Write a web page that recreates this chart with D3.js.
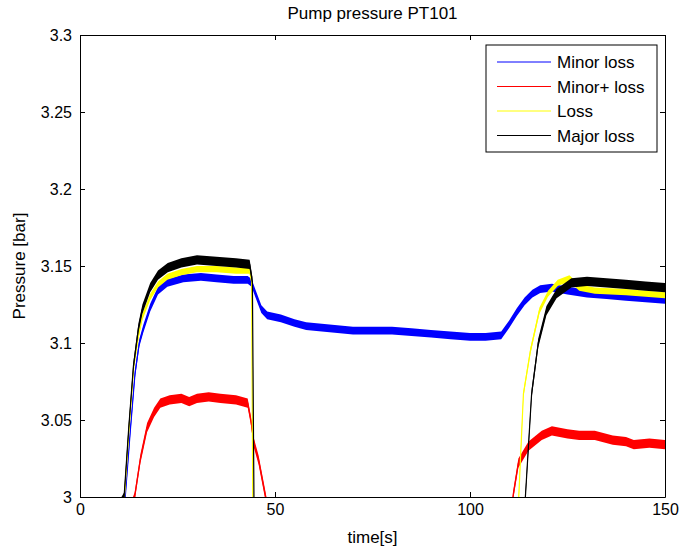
<!DOCTYPE html>
<html>
<head>
<meta charset="utf-8">
<script src="https://cdn.jsdelivr.net/npm/d3@7"></script>
<style>
  body { margin: 0; background: #fff; }
  svg text { font-family: "Liberation Sans", Arial, sans-serif; fill: #000; }
  .axis path, .axis line { stroke: #000; stroke-width: 1; }
  .axis text { font-size: 16px; }
</style>
</head>
<body>
<svg width="683" height="554"></svg>
<script>
// time [s] / pressure [bar] pairs
var minorLoss = [
  [0, 2.95], [11.6, 3.0], [12.8, 3.04], [14.1, 3.08], [15.2, 3.1], [16.2, 3.109], [18, 3.123],
  [20, 3.134], [22.4, 3.139], [26.5, 3.142], [31, 3.143], [35, 3.142], [39.4, 3.141], [43, 3.141],
  [44, 3.139], [45, 3.132], [46.5, 3.122], [48, 3.118], [51.5, 3.116], [55, 3.113], [58, 3.111],
  [62, 3.11], [66, 3.109], [70, 3.108], [75, 3.108], [80, 3.108], [85, 3.107], [90, 3.106],
  [95, 3.105], [100, 3.104], [104, 3.104], [108, 3.105], [110, 3.112], [112, 3.12], [114, 3.127],
  [116, 3.132], [118, 3.135], [121, 3.136], [125, 3.134], [130, 3.132], [135, 3.131], [140, 3.13],
  [145, 3.129], [150, 3.128]
];
var minorPlusLoss = [
  [0, 2.9], [14, 3.0], [15.5, 3.025], [17.2, 3.045], [19, 3.055], [20.6, 3.061], [23, 3.063],
  [26, 3.064], [28, 3.062], [30, 3.064], [33, 3.065], [36, 3.064], [40, 3.063], [43, 3.061],
  [43.8, 3.05], [44.6, 3.035], [45.8, 3.024], [47.6, 3.0], [49, 2.98], [110, 2.95],
  [111, 3.0], [112.4, 3.022], [115, 3.033], [118.4, 3.04], [121, 3.043], [125, 3.041],
  [128, 3.04], [132, 3.04], [136.6, 3.037], [140, 3.036], [142, 3.034], [146, 3.035], [150, 3.034]
];
var loss = [
  [0, 2.95], [11.4, 3.0], [12.6, 3.045], [13.8, 3.085], [15, 3.105], [16, 3.117], [18, 3.13],
  [20, 3.138], [22.4, 3.143], [26, 3.146], [30, 3.148], [35, 3.148], [40, 3.147], [43.5, 3.147],
  [44, 3.14], [44.4, 2.95], [44.6, 2.9], [111, 2.9], [112.5, 3.0], [113.7, 3.067], [115.5, 3.095],
  [117.8, 3.121], [120, 3.132], [122.5, 3.139], [125.5, 3.142], [128, 3.136], [132, 3.134],
  [140, 3.133], [150, 3.131]
];
var majorLoss = [
  [0, 2.95], [11.3, 3.0], [12.5, 3.045], [13.7, 3.085], [15, 3.11], [16, 3.122], [18, 3.136],
  [20, 3.144], [22.5, 3.149], [26, 3.152], [30, 3.154], [35, 3.153], [40, 3.152], [43.5, 3.151],
  [44.2, 3.14], [44.6, 3.0], [44.8, 2.9], [113.5, 2.9], [114.2, 3.0], [115.8, 3.067], [117.5, 3.1],
  [119.6, 3.121], [122.2, 3.132], [126, 3.139], [130, 3.14], [135, 3.139], [140, 3.138],
  [145, 3.137], [150, 3.136]
];

var seriesNames = ["Minor loss", "Minor+ loss", "Loss", "Major loss"];
var seriesColors = ["#0000ff", "#ff0000", "#ffff00", "#000000"];
// half-width of the sensor noise band, bar
var seriesNoise = [0.0025, 0.003, 0.002, 0.003];
var seriesData = [minorLoss, minorPlusLoss, loss, majorLoss];

var xTicks = [0, 50, 100, 150];
var yTicks = [3, 3.05, 3.1, 3.15, 3.2, 3.25, 3.3];

var svg = d3.select("svg"),
    margin = {top: 35, right: 18, bottom: 57, left: 80},
    width = +svg.attr("width") - margin.left - margin.right,
    height = +svg.attr("height") - margin.top - margin.bottom;

var x = d3.scaleLinear().domain([0, 150]).range([0, width]);
var y = d3.scaleLinear().domain([3, 3.3]).range([height, 0]);

var g = svg.append("g").attr("transform", "translate(" + margin.left + "," + margin.top + ")");

g.append("clipPath").attr("id", "clip")
  .append("rect").attr("width", width).attr("height", height);

var plot = g.append("g").attr("clip-path", "url(#clip)");

var area = d3.area()
    .x(d => x(d[0]))
    .y0(d => y(d[1] - d[2]))
    .y1(d => y(d[1] + d[2]));

var line = d3.line()
    .x(d => x(d[0]))
    .y(d => y(d[1]));

seriesData.forEach((data, i) => {
  var withNoise = data.map(d => [d[0], d[1], seriesNoise[i]]);
  plot.append("path")
      .datum(withNoise)
      .attr("d", area)
      .attr("fill", seriesColors[i])
      .attr("stroke", "none");
  plot.append("path")
      .datum(data)
      .attr("d", line)
      .attr("fill", "none")
      .attr("stroke", seriesColors[i])
      .attr("stroke-width", 1.2);
});

// axes, MATLAB style: ticks inside on all four sides
g.append("g").attr("class", "axis")
    .attr("transform", "translate(0," + height + ")")
    .call(d3.axisBottom(x).tickValues(xTicks).tickSize(-5).tickSizeOuter(0).tickPadding(7)
      .tickFormat(d3.format("d")));
g.append("g").attr("class", "axis")
    .call(d3.axisTop(x).tickValues(xTicks).tickSize(-5).tickSizeOuter(0).tickFormat(""));
g.append("g").attr("class", "axis")
    .call(d3.axisLeft(y).tickValues(yTicks).tickSize(-5).tickSizeOuter(0).tickPadding(8)
      .tickFormat(d => d3.format("")(+d.toFixed(2))));
g.append("g").attr("class", "axis")
    .attr("transform", "translate(" + width + ",0)")
    .call(d3.axisRight(y).tickValues(yTicks).tickSize(-5).tickSizeOuter(0).tickFormat(""));

svg.selectAll(".axis path").attr("fill", "none");

// titles
svg.append("text")
    .attr("x", margin.left + width / 2)
    .attr("y", 19)
    .attr("text-anchor", "middle")
    .style("font-size", "17px")
    .text("Pump pressure PT101");

svg.append("text")
    .attr("x", margin.left + width / 2)
    .attr("y", 543)
    .attr("text-anchor", "middle")
    .style("font-size", "17px")
    .text("time[s]");

svg.append("text")
    .attr("transform", "translate(25," + (margin.top + height / 2) + ") rotate(-90)")
    .attr("text-anchor", "middle")
    .style("font-size", "17px")
    .text("Pressure [bar]");

// legend
var legend = svg.append("g").attr("transform", "translate(486,45)");
legend.append("rect")
    .attr("width", 171).attr("height", 107)
    .attr("fill", "#fff").attr("stroke", "#000");

seriesNames.forEach((name, i) => {
  var row = legend.append("g").attr("transform", "translate(0," + (17 + i * 24.5) + ")");
  row.append("line")
      .attr("x1", 11).attr("x2", 65)
      .attr("stroke", seriesColors[i]).attr("stroke-width", 1);
  row.append("text")
      .attr("x", 71).attr("y", 6)
      .style("font-size", "17px")
      .text(name);
});
</script>
</body>
</html>
